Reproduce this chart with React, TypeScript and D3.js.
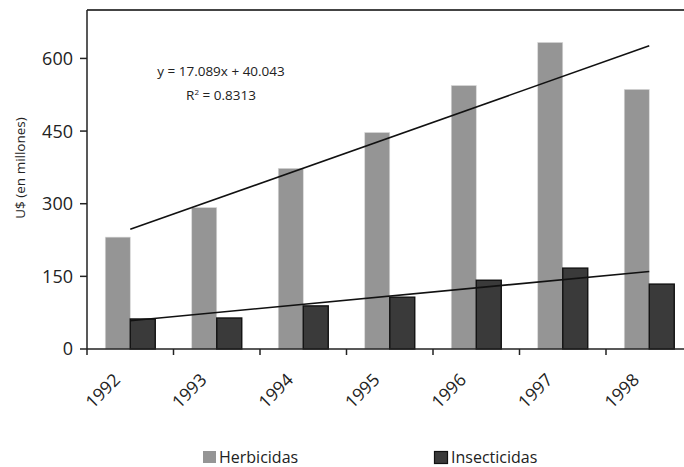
import React from "react";
import * as d3 from "d3";

const years = ["1992", "1993", "1994", "1995", "1996", "1997", "1998"];
const herbicidas = [231, 292, 373, 447, 544, 633, 536];
const insecticidas = [62, 64, 89, 107, 142, 167, 134];
const yTicks = [0, 150, 300, 450, 600];
const seriesKeys = ["Herbicidas", "Insecticidas"];

const W = 684;
const H = 467;
const left = 87;
const top = 10;
const bottom = 349;
const step = 86.5;

const FONT = "'Open Sans', 'Noto Sans', sans-serif";
const HERB = "#959595";
const INSECT = "#3a3a3a";

// least squares fit, x = 1..n
function fit(vals: number[]) {
    const xs = vals.map((_, i) => i + 1);
    const mx = d3.mean(xs)!;
    const my = d3.mean(vals)!;
    const sxy = d3.sum(xs, (x, i) => (x - mx) * (vals[i] - my));
    const sxx = d3.sum(xs, x => (x - mx) * (x - mx));
    const slope = sxy / sxx;
    return { slope, intercept: my - slope * mx };
}

export default function App() {
    const x = d3.scaleBand<string>().domain(years).range([left, left + step * years.length]).padding(0);
    const inner = d3.scaleBand<string>().domain(seriesKeys).range([0, x.bandwidth()]).paddingInner(0).paddingOuter(0.73);
    const y = d3.scaleLinear().domain([0, 700]).range([bottom, top]);

    const center = (i: number) => x(years[i])! + x.bandwidth() / 2;
    const trend = (vals: number[]) => {
        const f = fit(vals);
        const line = d3.line<number>()
            .x(i => center(i))
            .y(i => y(f.slope * (i + 1) + f.intercept));
        return line([0, vals.length - 1]) || "";
    };

    return (
        <svg width={W} height={H} style={{ position: "absolute", left: 0, top: 0, background: "#fff" }}>
            {/* bars */}
            {years.map((yr, i) => (
                <g key={yr}>
                    <rect x={x(yr)! + inner("Herbicidas")!} y={y(herbicidas[i])} width={inner.bandwidth()}
                        height={y(0) - y(herbicidas[i])} fill={HERB} stroke="#d8d8d8" strokeWidth={0.6} />
                    <rect x={x(yr)! + inner("Insecticidas")!} y={y(insecticidas[i])} width={inner.bandwidth()}
                        height={y(0) - y(insecticidas[i])} fill={INSECT} stroke="#111" strokeWidth={1.4} />
                </g>
            ))}

            {/* trend lines */}
            <path d={trend(herbicidas)} fill="none" stroke="#111" strokeWidth={1.6} />
            <path d={trend(insecticidas)} fill="none" stroke="#111" strokeWidth={1.6} />

            {/* frame & axes */}
            <line x1={left} x2={W} y1={top} y2={top} stroke="#444" strokeWidth={2} />
            <line x1={left} x2={left} y1={top} y2={bottom} stroke="#222" strokeWidth={1.5} />
            <line x1={left} x2={W} y1={bottom} y2={bottom} stroke="#222" strokeWidth={1.5} />

            {yTicks.map(t => (
                <g key={t} transform={`translate(0,${y(t)})`}>
                    <line x1={left - 7} x2={left} stroke="#222" strokeWidth={1.5} />
                    <text x={left - 14} dy="0.36em" textAnchor="end" fontFamily={FONT} fontSize={18} fill="#222">{t}</text>
                </g>
            ))}

            {years.map(yr => (
                <line key={"t" + yr} x1={x(yr)!} x2={x(yr)!} y1={bottom} y2={bottom + 6} stroke="#222" strokeWidth={1.5} />
            ))}

            {years.map(yr => (
                <text key={"l" + yr} transform={`translate(${x(yr)! + x.bandwidth() / 2 - 9},${381}) rotate(-45)`}
                    textAnchor="end" fontFamily={FONT} fontSize={17.5} fill="#222">{yr}</text>
            ))}

            <text transform="translate(25,168) rotate(-90)" textAnchor="middle" fontFamily={FONT} fontSize={13.5} fill="#222">
                U$ (en millones)
            </text>

            {/* equation */}
            <text x={221} y={76} textAnchor="middle" fontFamily={FONT} fontSize={13.5} fill="#222">y = 17.089x + 40.043</text>
            <text x={221} y={100} textAnchor="middle" fontFamily={FONT} fontSize={13.5} fill="#222">
                R<tspan dy={-5} fontSize={8}>2</tspan><tspan dy={5}> = 0.8313</tspan>
            </text>

            {/* legend */}
            <rect x={203} y={451} width={13} height={12} fill={HERB} />
            <text x={219} y={463} fontFamily={FONT} fontSize={16} fill="#222">Herbicidas</text>
            <rect x={434.5} y={451.5} width={13} height={12} fill={INSECT} stroke="#111" strokeWidth={1.2} />
            <text x={451} y={463} fontFamily={FONT} fontSize={16} fill="#222">Insecticidas</text>
        </svg>
    );
}
